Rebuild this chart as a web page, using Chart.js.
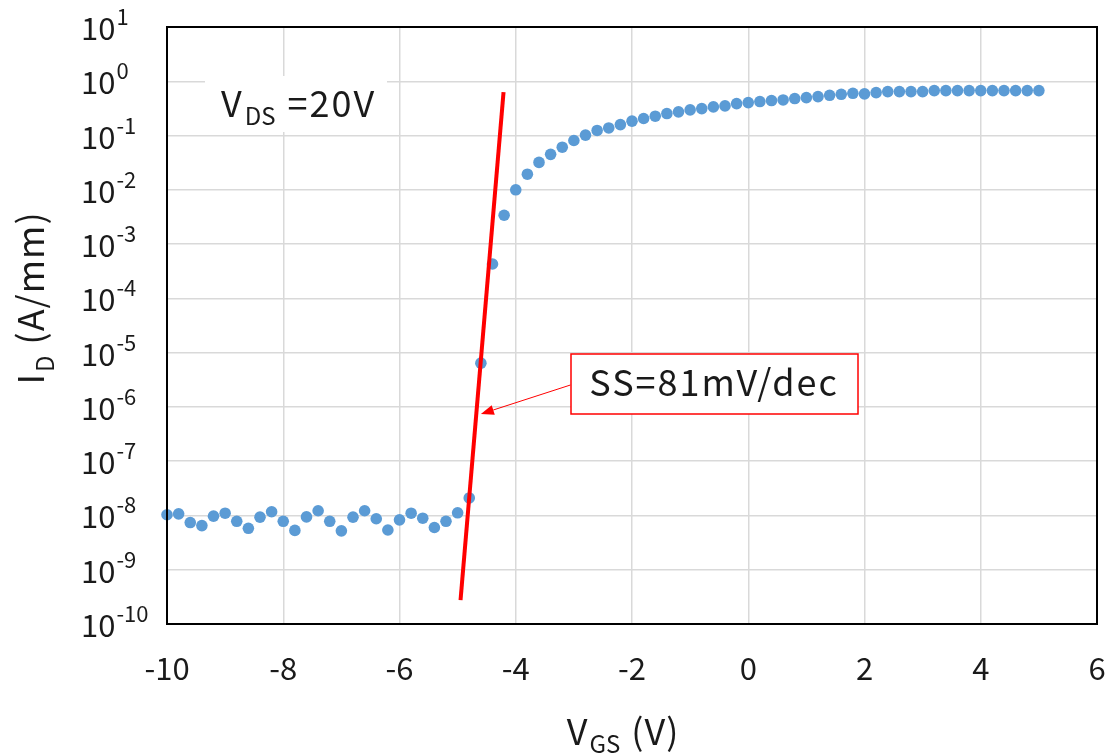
<!DOCTYPE html>
<html>
<head>
<meta charset="utf-8">
<script src="https://cdn.jsdelivr.net/npm/chart.js@4.4.1/dist/chart.umd.min.js"></script>
<style>
  html, body { margin: 0; padding: 0; background: #fff; }
  #wrap { width: 1110px; height: 753px; }
</style>
</head>
<body>
<div id="wrap"><canvas id="ivChart"></canvas></div>
<script>
  /* measured transfer curve, VDS = 20 V */
  const vgs = [
    -10, -9.8, -9.6, -9.4, -9.2, -9, -8.8, -8.6, -8.4, -8.2,
    -8, -7.8, -7.6, -7.4, -7.2, -7, -6.8, -6.6, -6.4, -6.2,
    -6, -5.8, -5.6, -5.4, -5.2, -5, -4.8, -4.6, -4.4, -4.2,
    -4, -3.8, -3.6, -3.4, -3.2, -3, -2.8, -2.6, -2.4, -2.2,
    -2, -1.8, -1.6, -1.4, -1.2, -1, -0.8, -0.6, -0.4, -0.2,
    0, 0.2, 0.4, 0.6, 0.8, 1, 1.2, 1.4, 1.6, 1.8,
    2, 2.2, 2.4, 2.6, 2.8, 3, 3.2, 3.4, 3.6, 3.8,
    4, 4.2, 4.4, 4.6, 4.8, 5
  ];
  const idValues = [
    1.03e-8, 1.07e-8, 7.4e-9, 6.5e-9, 9.7e-9, 1.1e-8, 7.8e-9, 5.8e-9, 9.3e-9, 1.17e-8,
    7.8e-9, 5.3e-9, 9.4e-9, 1.22e-8, 7.8e-9, 5.2e-9, 9.3e-9, 1.22e-8, 8.7e-9, 5.4e-9,
    8.3e-9, 1.1e-8, 8.9e-9, 6.0e-9, 7.8e-9, 1.12e-8, 2.1e-8, 6.4e-6, 4.3e-4, 3.4e-3,
    1.0e-2, 1.94e-2, 3.2e-2, 4.5e-2, 6.1e-2, 8.1e-2, 0.102, 0.124, 0.138, 0.159,
    0.184, 0.206, 0.227, 0.254, 0.273, 0.297, 0.314, 0.337, 0.352, 0.388,
    0.405, 0.423, 0.441, 0.453, 0.48, 0.5, 0.522, 0.552, 0.576, 0.601,
    0.585, 0.618, 0.645, 0.645, 0.645, 0.645, 0.673, 0.673, 0.673, 0.673,
    0.673, 0.673, 0.673, 0.673, 0.673, 0.673
  ];

  /* subthreshold slope fit line */
  const fitVgs = [-4.95, -4.21];
  const fitId  = [2.75e-10, 0.63];

  /* arrow from the SS label to the fit line */
  const arrowVgs = [-3.06, -4.6];
  const arrowId  = [2.53e-6, 7.4e-7];

  /* axis ticks */
  const xTicks = [-10, -8, -6, -4, -2, 0, 2, 4, 6];
  const yExponents = [1, 0, -1, -2, -3, -4, -5, -6, -7, -8, -9, -10];

  const ssLabel  = "SS=81mV/dec";
  const vdsLabel = ["V", "DS", " =20V"];
  const xTitle   = ["V", "GS", " (V)"];
  const yTitle   = ["I", "D", " (A/mm)"];

  const FONT = '"Noto Sans CJK JP", "Noto Sans", sans-serif';
  const TEXT = "#1a1a1a";

  function toPx(chart, vx, vy) {
    return [chart.scales.x.getPixelForValue(vx), chart.scales.y.getPixelForValue(vy)];
  }

  // main text + subscript + tail, starting at (x, baseline y)
  function drawSubText(ctx, parts, x, y, big, small, drop, spacing) {
    ctx.letterSpacing = spacing + "px";
    ctx.font = big + "px " + FONT;
    ctx.fillText(parts[0], x, y);
    x += ctx.measureText(parts[0]).width + 1;
    ctx.letterSpacing = "0px";
    ctx.font = small + "px " + FONT;
    ctx.fillText(parts[1], x, y + drop);
    x += ctx.measureText(parts[1]).width + 2;
    ctx.letterSpacing = spacing + "px";
    ctx.font = big + "px " + FONT;
    ctx.fillText(parts[2], x, y);
    ctx.letterSpacing = "0px";
  }

  function subTextWidth(ctx, parts, big, small, spacing) {
    ctx.letterSpacing = spacing + "px";
    ctx.font = big + "px " + FONT;
    let w = ctx.measureText(parts[0]).width + ctx.measureText(parts[2]).width + 3;
    ctx.letterSpacing = "0px";
    ctx.font = small + "px " + FONT;
    return w + ctx.measureText(parts[1]).width;
  }

  const overlay = {
    id: "overlay",
    beforeDatasetsDraw(chart) {
      const ctx = chart.ctx;
      ctx.save();
      // white patch behind the VDS note
      ctx.fillStyle = "#fff";
      ctx.fillRect(205, 76, 182, 56);
      // SS label box
      ctx.fillRect(571, 354, 287, 60);
      ctx.strokeStyle = "#ff0000";
      ctx.lineWidth = 1.5;
      ctx.strokeRect(571, 354, 287, 60);
      ctx.restore();
    },
    afterDraw(chart) {
      const ctx = chart.ctx;
      const a = chart.chartArea;
      ctx.save();

      // frame
      ctx.strokeStyle = "#000";
      ctx.lineWidth = 2;
      ctx.strokeRect(a.left, a.top, a.right - a.left, a.bottom - a.top);

      ctx.fillStyle = TEXT;
      ctx.textBaseline = "alphabetic";

      // x tick labels
      ctx.textAlign = "center";
      ctx.font = "31px " + FONT;
      xTicks.forEach(v => {
        ctx.fillText(String(v), chart.scales.x.getPixelForValue(v), 680);
      });

      // y tick labels 10^n
      ctx.textAlign = "left";
      yExponents.forEach(e => {
        const py = chart.scales.y.getPixelForValue(Math.pow(10, e));
        ctx.font = "31px " + FONT;
        ctx.fillText("10", 81, py + 13);
        const w = ctx.measureText("10").width;
        ctx.font = "22px " + FONT;
        ctx.fillText(String(e), 81 + w + 1, py - 2);
      });

      // y title, rotated
      ctx.save();
      ctx.translate(44, 298);
      ctx.rotate(-Math.PI / 2);
      const yw = subTextWidth(ctx, yTitle, 36, 24, 1);
      drawSubText(ctx, yTitle, -yw / 2, 0, 36, 24, 10, 1);
      ctx.restore();

      // x title
      const xw = subTextWidth(ctx, xTitle, 36, 24, 1);
      drawSubText(ctx, xTitle, 623 - xw / 2, 745, 36, 24, 8, 1);

      // VDS note
      drawSubText(ctx, vdsLabel, 221, 117, 36, 24, 8, 2);

      // SS note
      ctx.letterSpacing = "2px";
      ctx.font = "36px " + FONT;
      const sw = ctx.measureText(ssLabel).width;
      ctx.fillText(ssLabel, 714 - sw / 2, 396);
      ctx.letterSpacing = "0px";

      // arrow
      const [x0, y0] = toPx(chart, arrowVgs[0], arrowId[0]);
      const [x1, y1] = toPx(chart, arrowVgs[1], arrowId[1]);
      const ang = Math.atan2(y1 - y0, x1 - x0);
      const head = 13, half = 5;
      const bx = x1 - head * Math.cos(ang), by = y1 - head * Math.sin(ang);
      ctx.strokeStyle = "#ff0000";
      ctx.fillStyle = "#ff0000";
      ctx.lineWidth = 1;
      ctx.beginPath();
      ctx.moveTo(x0, y0);
      ctx.lineTo(bx, by);
      ctx.stroke();
      ctx.beginPath();
      ctx.moveTo(x1, y1);
      ctx.lineTo(bx + half * Math.sin(ang), by - half * Math.cos(ang));
      ctx.lineTo(bx - half * Math.sin(ang), by + half * Math.cos(ang));
      ctx.closePath();
      ctx.fill();

      ctx.restore();
    }
  };

  const gridStyle = { color: "#d9d9d9", lineWidth: 1.5, drawTicks: false };

  new Chart(document.getElementById("ivChart"), {
    type: "scatter",
    data: {
      datasets: [
        {
          label: "SS fit",
          data: fitVgs.map((v, i) => ({ x: v, y: fitId[i] })),
          showLine: true,
          borderColor: "#ff0000",
          borderWidth: 4,
          pointRadius: 0,
          order: 0
        },
        {
          label: "ID",
          data: vgs.map((v, i) => ({ x: v, y: idValues[i] })),
          backgroundColor: "#5b9bd5",
          borderWidth: 0,
          pointRadius: 5.8,
          clip: false,
          order: 1
        }
      ]
    },
    options: {
      responsive: true,
      maintainAspectRatio: false,
      animation: false,
      devicePixelRatio: 1,
      layout: { padding: { top: 27, right: 13, bottom: 0, left: 0 } },
      plugins: {
        legend: { display: false },
        tooltip: { enabled: false }
      },
      scales: {
        x: {
          type: "linear",
          min: xTicks[0],
          max: xTicks[xTicks.length - 1],
          afterBuildTicks(scale) { scale.ticks = xTicks.map(v => ({ value: v })); },
          afterFit(scale) { scale.height = 129; },
          grid: gridStyle,
          border: { color: "#000", width: 2 },
          ticks: { display: false }
        },
        y: {
          type: "logarithmic",
          min: 1e-10,
          max: 10,
          afterBuildTicks(scale) {
            scale.ticks = yExponents.slice().reverse().map(e => ({ value: Math.pow(10, e), major: true }));
          },
          afterFit(scale) { scale.width = 167; },
          grid: gridStyle,
          border: { color: "#000", width: 2 },
          ticks: { display: false }
        }
      }
    },
    plugins: [overlay]
  });
</script>
</body>
</html>
